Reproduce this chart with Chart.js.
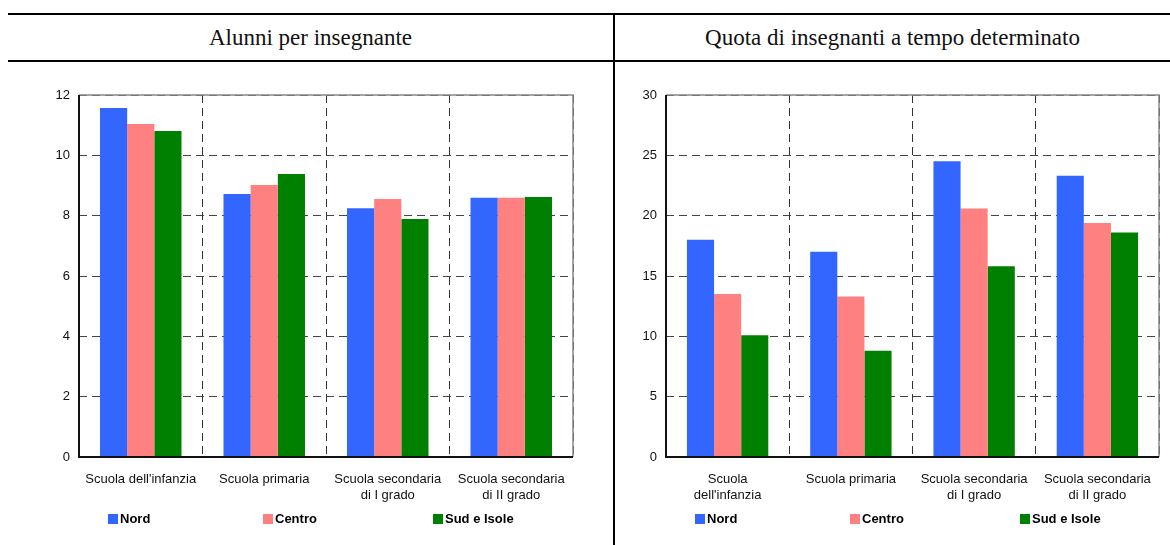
<!DOCTYPE html>
<html>
<head>
<meta charset="utf-8">
<script src="https://cdn.jsdelivr.net/npm/chart.js@4/dist/chart.umd.min.js"></script>
<style>
  body { margin: 0; width: 1170px; height: 545px; position: relative; background: #fff; overflow: hidden;
         font-family: "Liberation Sans", Arial, sans-serif; }
  .hline { position: absolute; left: 8px; right: 0; height: 2px; background: #000; }
  .vline { position: absolute; left: 613px; top: 13px; bottom: 0; width: 2px; background: #000; }
  .title { position: absolute; top: 15px; height: 46px; line-height: 46px; text-align: center;
           font-family: "Liberation Serif", serif; font-size: 23px; color: #111; }
  .panel { position: absolute; top: 63px; height: 482px; }
  .leg { position: absolute; top: 511px; font-size: 13px; font-weight: bold; color: #000; line-height: 16px; white-space: nowrap; }
  .leg i { display: inline-block; width: 10px; height: 10px; margin-right: 2px; vertical-align: -1px; }
</style>
</head>
<body>
<div class="hline" style="top:13px"></div>
<div class="hline" style="top:60px"></div>
<div class="vline"></div>
<div class="title" style="left:8px;width:605px">Alunni per insegnante</div>
<div class="title" style="left:615px;width:555px">Quota di insegnanti a tempo determinato</div>
<div class="panel" style="left:0;width:612px"><canvas id="c1" width="612" height="482"></canvas></div>
<div class="panel" style="left:616px;width:554px"><canvas id="c2" width="554" height="482"></canvas></div>
<script>
const series = ['Nord', 'Centro', 'Sud e Isole'];
const colors = ['#3366ff', '#ff8080', '#008000'];

const catsLeft = ["Scuola dell'infanzia", 'Scuola primaria', ['Scuola secondaria', 'di I grado'], ['Scuola secondaria', 'di II grado']];
const catsRight = [['Scuola', "dell'infanzia"], 'Scuola primaria', ['Scuola secondaria', 'di I grado'], ['Scuola secondaria', 'di II grado']];

// alunni per insegnante
const nordAlunni = [11.57, 8.72, 8.25, 8.59];
const centroAlunni = [11.04, 9.02, 8.55, 8.59];
const sudAlunni = [10.81, 9.38, 7.89, 8.62];

// quota di insegnanti a tempo determinato
const nordQuota = [18.0, 17.0, 24.5, 23.3];
const centroQuota = [13.5, 13.3, 20.6, 19.4];
const sudQuota = [10.1, 8.8, 15.8, 18.6];

const legendOffsets = [29, 184, 354];

// solid frame round the plot area: grey top/right, black axes
const frame = {
  id: 'frame',
  afterDatasetsDraw(c) {
    const { ctx, chartArea: a } = c;
    ctx.save();
    ctx.strokeStyle = '#888';
    ctx.lineWidth = 1.5;
    ctx.beginPath();
    ctx.moveTo(a.left, a.top); ctx.lineTo(a.right, a.top); ctx.lineTo(a.right, a.bottom);
    ctx.stroke();
    ctx.strokeStyle = '#111';
    ctx.lineWidth = 2;
    ctx.beginPath();
    ctx.moveTo(a.left, a.top); ctx.lineTo(a.left, a.bottom); ctx.lineTo(a.right, a.bottom);
    ctx.stroke();
    ctx.restore();
  }
};

function makeChart(id, panelLeft, cats, values, max, step, yWidth, padRight) {
  const chart = new Chart(document.getElementById(id), {
    type: 'bar',
    data: {
      labels: cats,
      datasets: series.map((s, i) => ({
        label: s, data: values[i], backgroundColor: colors[i],
        categoryPercentage: 0.66, barPercentage: 1
      }))
    },
    options: {
      responsive: false,
      animation: false,
      layout: { padding: { top: 32, right: padRight, bottom: 0, left: 0 } },
      plugins: { legend: { display: false }, tooltip: { enabled: false } },
      scales: {
        x: {
          afterFit: s => { s.height = 88; },
          grid: { color: '#333', lineWidth: 1, drawTicks: false },
          border: { display: false, dash: [8, 5] },
          ticks: { color: '#111', font: { size: 13, lineHeight: 1.25 }, padding: 14, maxRotation: 0, autoSkip: false }
        },
        y: {
          min: 0, max: max,
          afterFit: s => { s.width = yWidth; },
          grid: { color: '#444', lineWidth: 1, drawTicks: false },
          border: { display: false, dash: [8, 5] },
          ticks: { stepSize: step, color: '#111', font: { size: 13 }, padding: 9 }
        }
      }
    },
    plugins: [frame]
  });
  const left = panelLeft + chart.chartArea.left;
  series.forEach((s, i) => {
    const el = document.createElement('div');
    el.className = 'leg';
    el.style.left = (left + legendOffsets[i]) + 'px';
    el.innerHTML = '<i style="background:' + colors[i] + '"></i>' + s;
    document.body.appendChild(el);
  });
  return chart;
}

makeChart('c1', 0, catsLeft, [nordAlunni, centroAlunni, sudAlunni], 12, 2, 79, 39);
makeChart('c2', 616, catsRight, [nordQuota, centroQuota, sudQuota], 30, 5, 50, 11);
</script>
</body>
</html>
